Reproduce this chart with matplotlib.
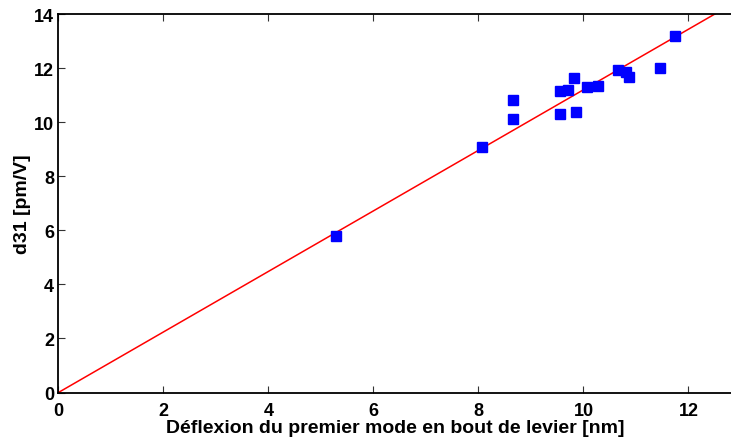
import matplotlib
matplotlib.use("Agg")
import matplotlib.pyplot as plt
import numpy as np

# deflexion [nm] vs d31 [pm/V]
deflexion = [5.28, 8.07, 8.66, 8.66, 9.56, 9.56, 9.71, 9.82, 9.86, 10.06,
             10.28, 10.66, 10.81, 10.86, 11.46, 11.75]
d31 = [5.78, 9.10, 10.81, 10.13, 11.14, 10.31, 11.20, 11.63, 10.36, 11.30,
       11.33, 11.93, 11.84, 11.66, 11.99, 13.18]
slope = 1.12
fit_x = [0, 14]

plt.rcParams['font.family'] = ['Liberation Sans', 'DejaVu Sans']
plt.rcParams['font.weight'] = 'bold'

fig = plt.figure(figsize=(7.31, 4.39), dpi=100)
# right border of the axes sits just past the picture edge
ax = fig.add_axes([0.0799, 0.1036, 0.9215, 0.862])

ax.plot(fit_x, slope * np.array(fit_x), color='red', lw=1.1)
ax.plot(deflexion, d31, 's', color='blue', ms=7.5, mec='blue')

ax.set_xlim(0, 12.83)
ax.set_ylim(0, 14)
ax.set_xticks(range(0, 13, 2))
ax.set_yticks(range(0, 15, 2))
ax.spines['right'].set_visible(False)
ax.tick_params(direction='in', top=True, right=False, labelsize=13, length=5,
               color='#333333')
ax.tick_params(axis='x', pad=7)
ax.tick_params(axis='y', pad=3)
for s in ax.spines.values():
    s.set_linewidth(1.3)
ax.set_xlabel('Déflexion du premier mode en bout de levier [nm]', fontsize=14,
              fontweight='bold', labelpad=-0.5)
ax.set_ylabel('d31 [pm/V]', fontsize=14, fontweight='bold', labelpad=2)

fig.savefig('out.png', dpi=100)
